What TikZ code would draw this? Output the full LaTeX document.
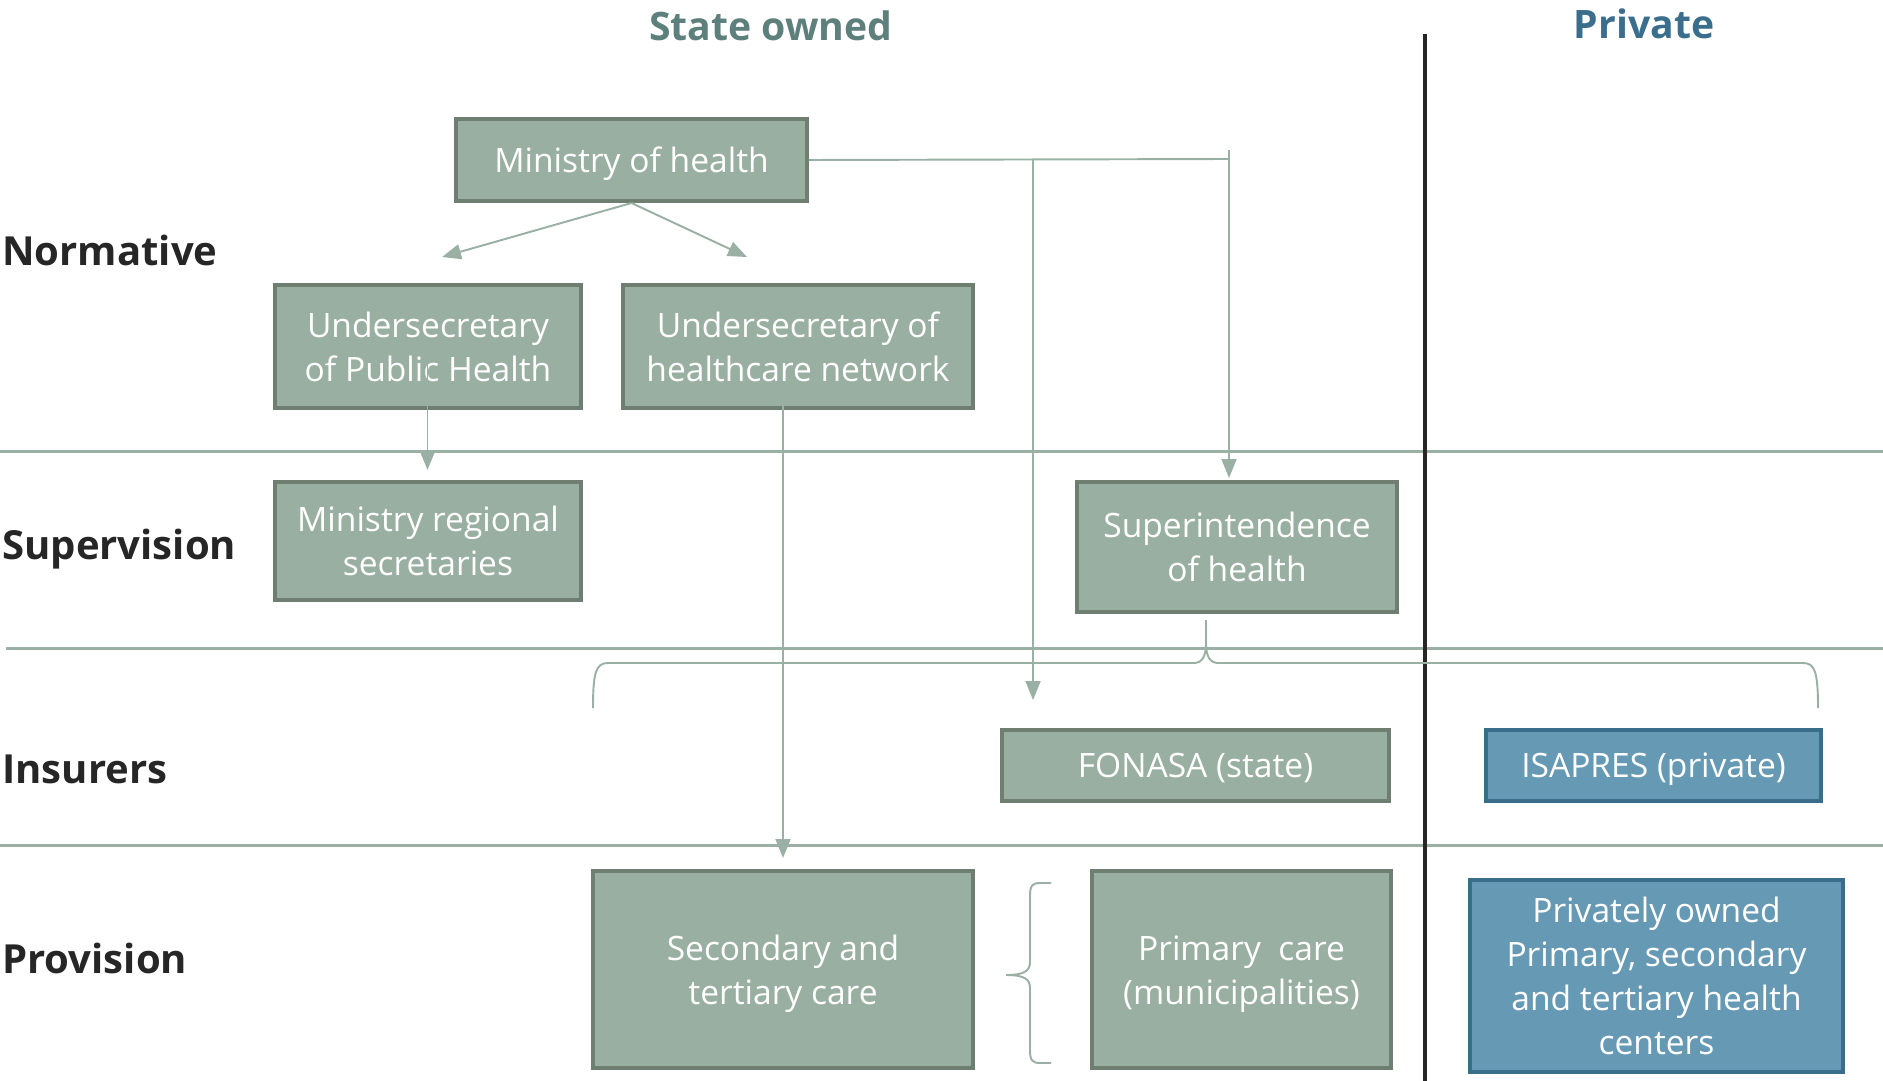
\documentclass[tikz,border=0pt]{standalone}
\usepackage{fontspec}
\setmainfont{Open Sans}
\usetikzlibrary{arrows.meta}

\definecolor{boxfill}{HTML}{99AFA1}
\definecolor{boxedge}{HTML}{6E7F71}
\definecolor{bluefill}{HTML}{6699B4}
\definecolor{blueedge}{HTML}{3A6D8A}
\definecolor{linkcol}{HTML}{9AB0A4}
\definecolor{statecol}{HTML}{5E807C}
\definecolor{privcol}{HTML}{3B6E8D}
\definecolor{labcol}{HTML}{262626}

\tikzset{
  orgbox/.style={draw=boxedge, fill=boxfill, line width=2.3pt, inner sep=0pt,
    align=center, text=white, font=\fontsize{19.1}{25}\selectfont},
  privbox/.style={orgbox, draw=blueedge, fill=bluefill},
  oneline/.style={text depth=0pt},
  rowlab/.style={anchor=west, inner sep=0pt, text=labcol,
    font=\fontsize{22.8}{26}\selectfont\bfseries},
  coltitle/.style={inner sep=0pt, font=\fontsize{22.3}{26}\selectfont\bfseries},
  conn/.style={draw=linkcol, line width=1.1pt},
  connarrow/.style={conn, -{Triangle[width=0.3cm,length=0.38cm]}},
  divider/.style={draw=linkcol, line width=1.2pt},
  bracket/.style={draw=linkcol, line width=1.1pt},
}

\begin{document}
\begin{tikzpicture}[x=0.02cm, y=-0.02cm]
\useasboundingbox (0,0) rectangle (1883,1081);

% band dividers and the public/private split
\draw[divider] (0,451.5) -- (1883,451.5);
\draw[divider] (6,648.5) -- (1883,648.5);
\draw[divider] (0,845.5) -- (1883,845.5);
\draw[line width=2.4pt, black!85] (1425,34) -- (1425,1081);

% column titles
\node[coltitle, text=statecol] (tstate) at (771,26) {State owned};
\node[coltitle, text=privcol] (tpriv) at (1644,24) {Private};

% row labels
\node[rowlab] (lnorm) at (2,250) {Normative};
\node[rowlab] (lsup)  at (2,549) {Supervision};
\node[rowlab] (lins)  at (2,769) {Insurers};
\node[rowlab] (lprov) at (2,958) {Provision};

% organisations
\node[orgbox, oneline, minimum width=7.02cm, minimum height=1.64cm] (min) at (631.5,160) {Ministry of health};
\node[orgbox, minimum width=6.12cm, minimum height=2.46cm] (ush) at (428,346.5) {Undersecretary\\of Public Health};
\node[orgbox, minimum width=7.0cm,  minimum height=2.46cm] (usn) at (798,346.5) {Undersecretary of\\healthcare network};
\node[orgbox, minimum width=6.12cm, minimum height=2.36cm] (mrs) at (428,541) {Ministry regional\\secretaries};
\node[orgbox, minimum width=6.4cm,  minimum height=2.6cm]  (sup) at (1237,547) {Superintendence\\of health};
\node[orgbox, oneline, minimum width=7.74cm, minimum height=1.42cm] (fon) at (1195.5,765.5) {FONASA (state)};
\node[privbox, oneline, minimum width=6.7cm, minimum height=1.42cm] (isa) at (1653.5,765.5) {ISAPRES (private)};
\node[orgbox, minimum width=7.6cm,  minimum height=3.94cm] (sec) at (783,969.5) {\\[-6pt]Secondary and\\tertiary care};
\node[orgbox, minimum width=5.98cm, minimum height=3.94cm] (pri) at (1241.5,969.5) {\\[-6pt]Primary~ care\\(municipalities)};
\node[privbox, minimum width=7.46cm, minimum height=3.84cm] (pvt) at (1656.5,976) {Privately owned\\Primary, secondary\\and tertiary health\\centers};

% free ends of the connectors
\coordinate (a1) at (442,257);
\coordinate (a2) at (747,257);
\coordinate (jfon) at (1033,159);
\coordinate (jsup) at (1229,159);
\coordinate (jsuptop) at (1229,150);
\coordinate (tfon) at (1033,700);
\coordinate (tsup) at (1229,478);
\coordinate (ushs) at (427.5,362);
\coordinate (tmrs) at (427.5,470);
\coordinate (usns) at (783,396);
\coordinate (tsec) at (783,858);

% connectors
\draw[connarrow] (min.south) -- (a1);
\draw[connarrow] (min.south) -- (a2);
\draw[conn] (min.east) -- (jsup);
\draw[connarrow] (jsuptop) -- (tsup);
\draw[connarrow] (jfon) -- (tfon);
\draw[connarrow] (ushs) -- (tmrs);
\draw[connarrow] (usns) -- (tsec);

% brace under the superintendence, spanning both insurers
\coordinate (bl) at (593,708);
\coordinate (bm) at (1206,620);
\coordinate (br) at (1818,708);
\draw[bracket] (bl) .. controls (593,672) and (596,663) .. (608,663)
  -- (1194,663) .. controls (1202,663) and (1206,656) .. (1206,644) -- (bm);
\draw[bracket] (bm) -- (1206,644) .. controls (1206,656) and (1210,663) .. (1218,663)
  -- (1803,663) .. controls (1815,663) and (1818,672) .. (br);

% brace beside primary care
\coordinate (pt) at (1051,883);
\coordinate (pm) at (1006,975);
\coordinate (pb) at (1051,1063);
\draw[bracket] (pt) -- (1040,883) .. controls (1032,883) and (1030,886) .. (1030,896)
  -- (1030,962) .. controls (1030,971) and (1024,975) .. (pm);
\draw[bracket] (pm) .. controls (1024,975) and (1030,979) .. (1030,988)
  -- (1030,1050) .. controls (1030,1060) and (1032,1063) .. (1040,1063) -- (pb);
\end{tikzpicture}
\end{document}
